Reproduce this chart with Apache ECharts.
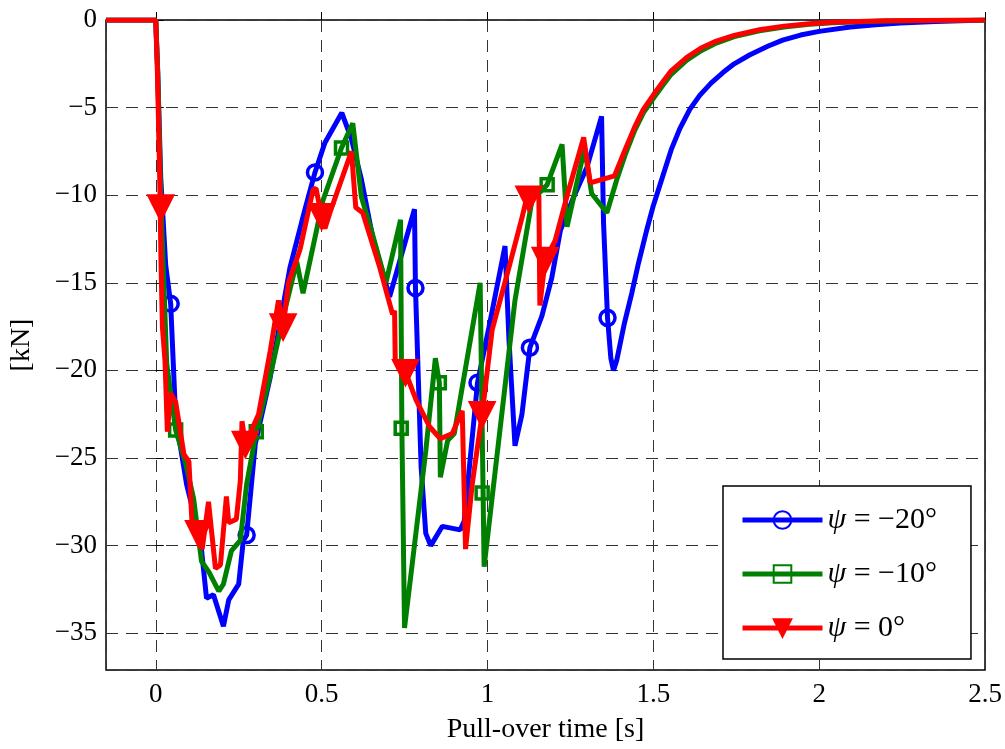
<!DOCTYPE html>
<html>
<head>
<meta charset="utf-8">
<script src="https://cdn.jsdelivr.net/npm/echarts@6/dist/echarts.min.js"></script>
<style>
  html, body { margin: 0; padding: 0; background: #fff; }
  #chart { width: 1005px; height: 749px; }
</style>
</head>
<body>
<div id="chart"></div>
<script>
/**
 * Pull-over force curves, three psi angles
 */
var seriesNames = ['ψ = −20°', 'ψ = −10°', 'ψ = 0°'];
var seriesColors = ['#0000ff', '#008000', '#ff0000'];

// psi = -20 deg, [time s, force kN]
var bluePoints = [
    [-0.15, 0], [0, 0], [0.006, -3], [0.015, -9], [0.03, -14], [0.045, -16.2], [0.06, -22.7],
    [0.093, -26.5], [0.135, -29.7], [0.153, -33], [0.174, -32.8], [0.204, -34.6], [0.22, -33.1],
    [0.25, -32.2], [0.264, -29.7], [0.274, -29.4], [0.3, -24.2], [0.345, -20.4], [0.405, -14.1],
    [0.45, -10.8], [0.48, -8.7], [0.51, -7.0], [0.561, -5.3], [0.59, -6.8], [0.62, -9.1],
    [0.654, -12.4], [0.705, -15.8], [0.78, -10.8], [0.783, -15.3], [0.8, -25.5], [0.814, -29.3],
    [0.829, -30], [0.864, -28.9], [0.918, -29.1], [0.93, -28.6], [0.97, -20.7], [1.005, -17.5],
    [1.053, -12.9], [1.065, -18.3], [1.083, -24.3], [1.104, -22.5], [1.128, -18.7], [1.164, -16.9],
    [1.194, -14.7], [1.22, -12], [1.26, -10.1], [1.3, -8.4], [1.344, -5.5], [1.35, -11.6],
    [1.362, -17], [1.372, -19.3], [1.38, -20], [1.39, -19.4], [1.413, -17.3], [1.435, -15.6],
    [1.455, -13.9], [1.48, -12], [1.5, -10.6], [1.527, -9], [1.554, -7.4], [1.58, -6.2],
    [1.61, -5.1], [1.64, -4.3], [1.674, -3.6], [1.71, -3.0], [1.744, -2.5], [1.79, -2.0],
    [1.845, -1.5], [1.89, -1.15], [1.944, -0.86], [2.0, -0.65], [2.094, -0.4], [2.17, -0.27],
    [2.244, -0.17], [2.35, -0.08], [2.5, 0]
];
// psi = -10 deg
var greenPoints = [
    [-0.15, 0], [0, 0], [0.006, -3], [0.015, -10], [0.033, -19.6], [0.06, -23.4], [0.09, -25.3],
    [0.114, -27.3], [0.138, -30.9], [0.16, -31.5], [0.19, -32.6], [0.204, -32.2], [0.228, -30.3],
    [0.255, -29.7], [0.274, -26.5], [0.303, -23.5], [0.345, -20.3], [0.39, -16.5], [0.425, -13.8],
    [0.444, -15.6], [0.504, -10.3], [0.56, -7.3], [0.594, -5.9], [0.62, -10.1], [0.65, -12],
    [0.694, -15], [0.738, -11.4], [0.742, -23.3], [0.75, -34.7], [0.814, -24.6], [0.843, -19.3],
    [0.855, -20.7], [0.858, -26.1], [0.88, -24], [0.9, -23.6], [0.978, -15], [0.99, -31.2],
    [1.083, -16], [1.134, -10.3], [1.18, -9.4], [1.225, -7.1], [1.24, -11.8], [1.293, -7.3],
    [1.314, -9.9], [1.36, -11], [1.39, -9.1], [1.415, -7.7], [1.444, -6.3], [1.47, -5.3],
    [1.503, -4.4], [1.53, -3.7], [1.554, -3.1], [1.6, -2.3], [1.644, -1.75], [1.69, -1.32],
    [1.744, -0.95], [1.82, -0.62], [1.894, -0.4], [1.97, -0.25], [2.04, -0.16], [2.2, -0.05],
    [2.5, 0]
];
// psi = 0 deg
var redPoints = [
    [-0.15, 0], [0, 0], [0.005, -3], [0.012, -9], [0.016, -14], [0.02, -17.5], [0.028, -19.5],
    [0.035, -23.5], [0.045, -21.3], [0.06, -21.8], [0.085, -24.8], [0.1, -25.2], [0.11, -29],
    [0.129, -29.3], [0.14, -30.2], [0.159, -27.5], [0.18, -31.3], [0.195, -31.1], [0.213, -27.2],
    [0.22, -28.7], [0.243, -28.5], [0.255, -26.3], [0.26, -22.9], [0.27, -24.2], [0.31, -22.5],
    [0.345, -18.9], [0.37, -16], [0.384, -17.5], [0.4, -15], [0.435, -13.1], [0.474, -9.7],
    [0.483, -9.6], [0.5, -11.2], [0.51, -11.9], [0.525, -11], [0.59, -7.5], [0.603, -10.7],
    [0.624, -11], [0.675, -14.1], [0.714, -16.8], [0.72, -16.6], [0.722, -19.4], [0.753, -20.1],
    [0.785, -21.7], [0.825, -23.2], [0.858, -23.9], [0.894, -23.6], [0.924, -22.3], [0.934, -30.2],
    [0.954, -26.5], [0.984, -22.5], [1.014, -17.7], [1.065, -14.1], [1.104, -11.3], [1.12, -10],
    [1.155, -10], [1.158, -16.3], [1.174, -13.7], [1.204, -12.6], [1.245, -9.7], [1.29, -6.7],
    [1.31, -9.3], [1.383, -8.9], [1.415, -7.4], [1.444, -6.1], [1.47, -5.1], [1.503, -4.2],
    [1.53, -3.5], [1.554, -2.9], [1.6, -2.15], [1.644, -1.6], [1.69, -1.2], [1.744, -0.88],
    [1.82, -0.56], [1.894, -0.35], [1.97, -0.21], [2.04, -0.13], [2.2, -0.04], [2.5, 0]
];

// marker positions
var blueMarks = [[0.045, -16.2], [0.274, -29.4], [0.48, -8.7], [0.783, -15.3], [0.97, -20.7], [1.128, -18.7], [1.362, -17]];
var greenMarks = [[0.06, -23.4], [0.303, -23.5], [0.56, -7.3], [0.74, -23.3], [0.855, -20.7], [0.984, -27], [1.18, -9.4]];
var redMarks = [[0.015, -10.7], [0.129, -29.3], [0.27, -24.2], [0.384, -17.5], [0.5, -11.2], [0.753, -20.1], [0.984, -22.5], [1.125, -10.2], [1.174, -13.7]];

var xTicks = [0, 0.5, 1, 1.5, 2, 2.5];
var yTicks = [0, -5, -10, -15, -20, -25, -30, -35];

var serif = 'Liberation Serif';
var minus = function (v) {
    return String(v).replace('-', '\u2212');
};

var chart = echarts.init(document.getElementById('chart'));

// circle and square hollow, triangle filled
var symbols = [
    { symbol: 'circle', size: 15, rotate: 0, fill: 'rgba(0,0,0,0)' },
    { symbol: 'rect', size: 12, rotate: 0, fill: 'rgba(0,0,0,0)' },
    { symbol: 'triangle', size: 23, rotate: 180, fill: '#ff0000' }
];

function lineSeries(i, data) {
    return {
        name: seriesNames[i],
        type: 'line',
        data: data,
        symbol: symbols[i].symbol,
        symbolSize: symbols[i].size,
        symbolRotate: symbols[i].rotate,
        showSymbol: false,
        lineStyle: { color: seriesColors[i], width: 5 },
        itemStyle: { color: symbols[i].fill, borderColor: seriesColors[i], borderWidth: 3.5 },
        z: 2 + i,
        silent: true
    };
}

function markSeries(i, data) {
    return {
        type: 'scatter',
        data: data,
        symbol: symbols[i].symbol,
        symbolSize: symbols[i].size,
        symbolRotate: symbols[i].rotate,
        itemStyle: { color: symbols[i].fill, borderColor: seriesColors[i], borderWidth: 3.5, opacity: 1 },
        z: 2 + i,
        silent: true
    };
}

var option = {
    animation: false,
    backgroundColor: '#fff',
    grid: {
        left: 103, right: 20, top: 20, bottom: 79,
        show: true, borderColor: '#000', borderWidth: 1.5
    },
    xAxis: {
        type: 'value',
        min: -0.15, max: 2.5, splitNumber: 5,
        name: 'Pull-over time [s]',
        nameLocation: 'middle',
        nameGap: 46,
        nameTextStyle: { fontFamily: serif, fontSize: 28, color: '#000' },
        axisLine: { show: false },
        axisTick: { show: true, inside: true, length: 8, lineStyle: { color: '#000', width: 1 } },
        axisLabel: {
            fontFamily: serif, fontSize: 27, color: '#000', margin: 11,
            showMinLabel: false,
            formatter: function (v) {
                return xTicks.indexOf(Math.round(v * 100) / 100) >= 0 ? String(v) : '';
            }
        },
        splitLine: { show: true, lineStyle: { color: '#333', width: 1, type: [12, 8] } }
    },
    yAxis: {
        type: 'value',
        min: -37.1, max: 0, splitNumber: 7,
        name: '[kN]',
        nameLocation: 'middle',
        nameGap: 70,
        nameRotate: 90,
        nameTextStyle: { fontFamily: serif, fontSize: 28, color: '#000' },
        axisLine: { show: false },
        axisTick: { show: true, inside: true, length: 8, lineStyle: { color: '#000', width: 1 } },
        axisLabel: {
            fontFamily: serif, fontSize: 27, color: '#000', margin: 9,
            showMinLabel: false,
            formatter: function (v) {
                return yTicks.indexOf(v) >= 0 ? minus(v) : '';
            }
        },
        splitLine: { show: true, lineStyle: { color: '#333', width: 1, type: [12, 8] } }
    },
    legend: {
        data: seriesNames,
        orient: 'vertical',
        left: 723,
        top: 486,
        padding: [19, 34, 16, 17],
        itemWidth: 80,
        itemHeight: 22,
        itemGap: 24,
        borderColor: '#000',
        borderWidth: 1.5,
        backgroundColor: '#fff',
        selectedMode: false,
        lineStyle: { width: 5 },
        formatter: function (name) {
            return '{i|ψ}' + name.slice(1);
        },
        textStyle: {
            fontFamily: serif, fontSize: 30, color: '#000',
            rich: { i: { fontFamily: serif, fontSize: 30, fontStyle: 'italic', color: '#000' } }
        }
    },
    series: [
        lineSeries(0, bluePoints),
        lineSeries(1, greenPoints),
        lineSeries(2, redPoints),
        markSeries(0, blueMarks),
        markSeries(1, greenMarks),
        markSeries(2, redMarks)
    ]
};

chart.setOption(option);

window.addEventListener('resize', function () {
    chart.resize();
});
</script>
</body>
</html>
